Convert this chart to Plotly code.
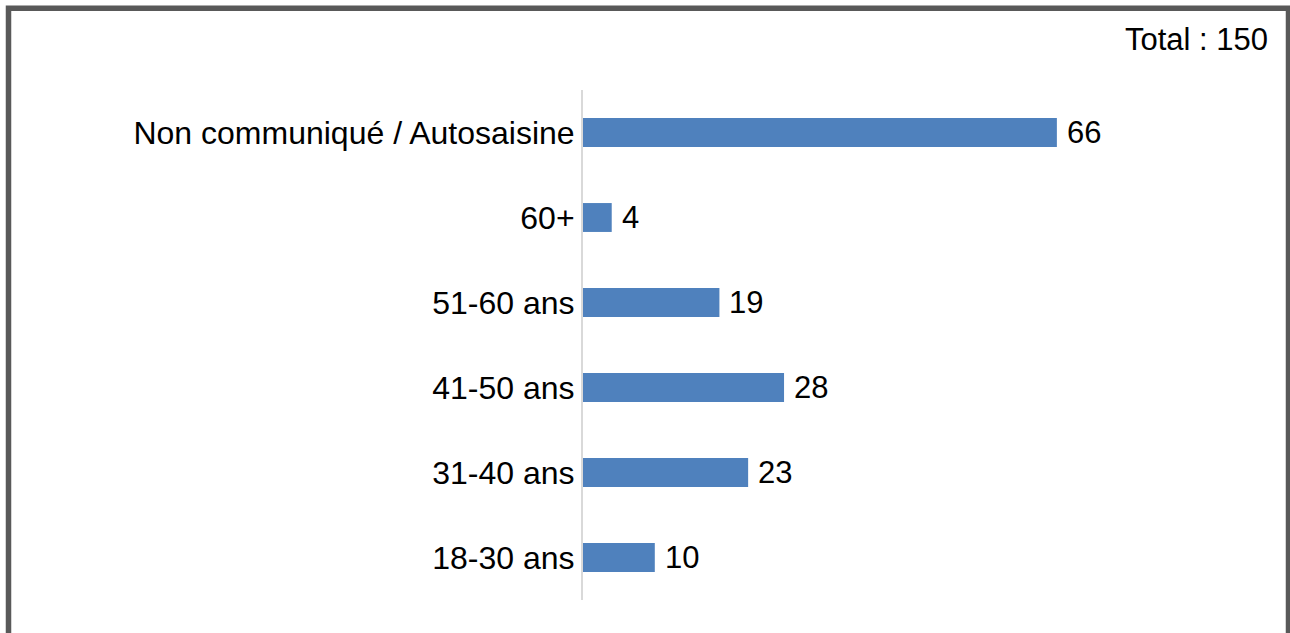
import plotly.graph_objects as go

categories = ["18-30 ans", "31-40 ans", "41-50 ans", "51-60 ans", "60+", "Non communiqué / Autosaisine"]
values = [10, 23, 28, 19, 4, 66]
total_label = "Total : 150"

W, H = 1290, 633
L, R, T, B = 583, 50, 90, 33
pw = W - L - R
ph = H - T - B

def px(x):
    return (x - L) / pw

def py(y):
    return (H - B - y) / ph

FONT = "Liberation Sans, Arial"

fig = go.Figure()
fig.add_trace(go.Bar(
    x=values, y=categories, orientation="h",
    marker=dict(color="#4F81BD", line=dict(width=0)),
    hoverinfo="skip",
))

annotations = [dict(
    x=v, y=c, xref="x", yref="y", text=str(v), showarrow=False,
    xanchor="left", yanchor="middle", xshift=8,
    font=dict(family=FONT, size=31, color="#000000"),
) for c, v in zip(categories, values)]

annotations.append(dict(
    text=total_label, xref="paper", yref="paper",
    x=px(1270), y=py(40), xanchor="right", yanchor="middle",
    showarrow=False,
    font=dict(family=FONT, size=31, color="#000000"),
))

fig.update_layout(
    width=W, height=H,
    margin=dict(l=L, r=R, t=T, b=B, pad=0),
    paper_bgcolor="white", plot_bgcolor="white",
    showlegend=False,
    bargap=0.66,
    font=dict(family=FONT, size=31, color="#000000"),
    xaxis=dict(range=[0, pw / 7.18], visible=False, fixedrange=True),
    yaxis=dict(
        type="category", categoryorder="array", categoryarray=categories,
        showline=True, linecolor="#D9D9D9", linewidth=2,
        showgrid=False, zeroline=False, ticks="", ticklen=0, ticklabelstandoff=0,
        tickfont=dict(family=FONT, size=32, color="#000000"),
        fixedrange=True,
    ),
    shapes=[dict(
        type="rect", xref="paper", yref="paper",
        x0=px(8.5), x1=px(1288.5), y0=py(660), y1=py(8.3),
        line=dict(color="#595959", width=5.5), fillcolor="rgba(0,0,0,0)",
        layer="above",
    )],
    annotations=annotations,
)

fig.write_html(
    "out.html",
    config={"displayModeBar": False, "staticPlot": True},
    post_script="document.body.style.margin='0';document.body.style.overflow='hidden';",
)
